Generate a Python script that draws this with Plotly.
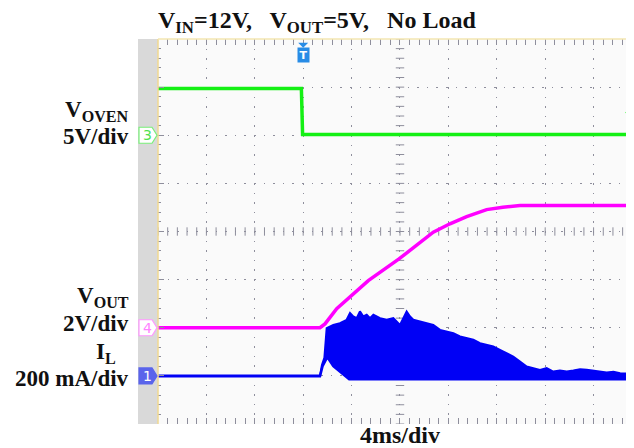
import plotly.graph_objects as go

# ---------------- data (read from the scope capture) ----------------
# time in ms relative to trigger; 4 ms/div
EN_T = [-12, -0.15, -0.05, 27.34]
EN_V = [4.86, 4.86, 0.08, 0.08]          # V, 5 V/div

VOUT_T = [-12, 1.39, 1.80, 2.77, 5.38, 7.92, 10.75, 12.13, 13.51, 15.16, 16.5, 17.92, 27.34]
VOUT_V = [0, 0, 0.16, 0.79, 1.96, 2.86, 3.97, 4.32, 4.62, 4.91, 5.01, 5.08, 5.08]   # V, 2 V/div

IL_T_UP = [-12, 1.39, 1.55, 1.75, 1.94, 2.49, 3.04, 3.59, 3.87, 4.14, 4.42, 4.69, 4.97, 5.25,
           5.52, 5.80, 6.35, 6.90, 7.45, 8.0, 8.55, 8.83, 9.10, 9.65, 10.21, 10.75, 11.31,
           11.86, 12.41, 12.96, 13.51, 14.06, 14.61, 15.16, 15.71, 16.26, 16.82, 17.36, 17.92,
           18.47, 19.02, 19.57, 20.12, 20.67, 21.22, 21.78, 22.33, 22.88, 23.43, 23.98, 24.53,
           25.08, 25.64, 26.19, 27.34]
IL_UP = [2, 2, 45, 75, 198, 212, 219, 233, 261, 247, 240, 268, 247, 254,
         240, 254, 240, 233, 240, 212, 268, 247, 233, 226, 219, 212, 191,
         184, 177, 164, 157, 150, 136, 129, 122, 108, 94, 80, 60,
         39, 32, 25, 32, 18, 22, 18, 22, 28, 25, 22, 18,
         14, 17, 11, 8]                    # mA, 200 mA/div
IL_T_LO = [-12, 1.39, 1.60, 1.99, 2.49, 3.30, 3.80, 27.34]
IL_LO = [-2, -2, 40, 78, 40, 5, -14, -14]

TRIG_TIME = 0.0
TRIG_LEVEL = 2.37   # V on EN channel

# scope settings: volts (or mA) per div and offset in divisions
CH = {
    "EN": dict(scale=5, offset=2),
    "VOUT": dict(scale=2, offset=-2),
    "IL": dict(scale=200, offset=-3),
}
NDIV_Y = 8
T_RANGE = [-12, 27.34]

GREEN = "rgb(20,240,20)"
MAGENTA = "rgb(255,0,255)"
BLUE = "rgb(0,0,245)"

def rng(ch):
    s, o = CH[ch]["scale"], CH[ch]["offset"]
    return [(-NDIV_Y / 2 - o) * s, (NDIV_Y / 2 - o) * s]

def ypaper(ch):
    return (CH[ch]["offset"] + NDIV_Y / 2) / NDIV_Y

fig = go.Figure()

grid_col = "#8e8e9c"
# center graticule tick marks
cx = [T_RANGE[0] + 0.8 * k for k in range(50) if T_RANGE[0] + 0.8 * k <= T_RANGE[1]]
cy = [-4 + 0.2 * k for k in range(41)]
fig.add_trace(go.Scatter(x=cx, y=[0] * len(cx), mode="markers", hoverinfo="skip",
                         marker=dict(symbol="line-ns-open", size=6, color=grid_col,
                                     line=dict(color=grid_col, width=1)),
                         showlegend=False))
fig.add_trace(go.Scatter(x=[8] * len(cy), y=cy, mode="markers", hoverinfo="skip",
                         marker=dict(symbol="line-ew-open", size=6, color=grid_col,
                                     line=dict(color=grid_col, width=1)),
                         showlegend=False))

# traces
fig.add_trace(go.Scatter(x=EN_T, y=EN_V, yaxis="y2", mode="lines",
                         line=dict(color=GREEN, width=3.5), showlegend=False))
fig.add_trace(go.Scatter(x=VOUT_T, y=VOUT_V, yaxis="y3", mode="lines",
                         line=dict(color=MAGENTA, width=3.5), showlegend=False))
fig.add_trace(go.Scatter(x=IL_T_LO, y=IL_LO, yaxis="y4", mode="lines",
                         line=dict(color=BLUE, width=2.5), showlegend=False))
fig.add_trace(go.Scatter(x=IL_T_UP, y=IL_UP, yaxis="y4", mode="lines", fill="tonexty",
                         fillcolor=BLUE, line=dict(color=BLUE, width=2), showlegend=False))
# trigger level arrow
fig.add_trace(go.Scatter(x=[27.05], y=[TRIG_LEVEL], yaxis="y2", mode="markers", cliponaxis=False,
                         marker=dict(symbol="triangle-left", size=11, color="rgb(90,250,90)"),
                         showlegend=False))

# the page body has an 8px margin, so margins are shifted by 8px
fig.update_layout(
    width=634, height=448,
    margin=dict(l=150, r=8, t=31, b=32),
    paper_bgcolor="white", plot_bgcolor="#fafafa",
    xaxis=dict(range=T_RANGE, tickmode="linear", tick0=-12, dtick=4, showticklabels=False,
               showgrid=True, gridcolor=grid_col, griddash="1.5px,8.1px", gridwidth=1,
               zeroline=False, ticks="inside", ticklen=6, tickcolor=grid_col, mirror="allticks",
               minor=dict(dtick=0.8, tick0=-12, ticks="inside", ticklen=3, tickcolor=grid_col,
                          showgrid=False),
               fixedrange=True),
    yaxis=dict(range=[-4, 4], tickmode="linear", tick0=-4, dtick=1, showticklabels=False,
               showgrid=True, gridcolor=grid_col, griddash="1.5px,8.1px", gridwidth=1,
               zeroline=False, ticks="inside", ticklen=6, tickcolor=grid_col, mirror="allticks",
               minor=dict(dtick=0.2, tick0=-4, ticks="inside", ticklen=3, tickcolor=grid_col,
                          showgrid=False),
               fixedrange=True),
    yaxis2=dict(range=rng("EN"), overlaying="y", visible=False),
    yaxis3=dict(range=rng("VOUT"), overlaying="y", visible=False),
    yaxis4=dict(range=rng("IL"), overlaying="y", visible=False),
    showlegend=False,
)

# gray strip and border
fig.add_shape(type="rect", xref="paper", yref="paper", x0=-0.042, x1=0, y0=0, y1=1,
              fillcolor="#d9d9d9", line=dict(width=0), layer="below")
fig.add_shape(type="line", xref="paper", yref="paper", x0=0, x1=0, y0=0, y1=1,
              line=dict(color="#f0d890", width=1.5))
fig.add_shape(type="line", xref="paper", yref="paper", x0=0, x1=1, y0=1, y1=1,
              line=dict(color="#f3e6b0", width=1.5))

# channel markers
pent = "M -19,-8 L -6,-8 L -1,0 L -6,8 L -19,8 Z"
markers = [("EN", "3", "white", "rgb(120,240,120)", "rgb(80,225,80)"),
           ("VOUT", "4", "white", "rgb(255,150,255)", "rgb(255,130,255)"),
           ("IL", "1", "rgb(90,100,235)", "rgb(90,100,235)", "white")]
for ch, lab_, fill, edge, tcol in markers:
    yp = ypaper(ch)
    fig.add_shape(type="path", path=pent, xref="paper", yref="paper",
                  xsizemode="pixel", ysizemode="pixel",
                  xanchor=0, yanchor=yp, fillcolor=fill, line=dict(color=edge, width=1.2))
    fig.add_annotation(x=0, y=yp, xref="paper", yref="paper", text=lab_, showarrow=False,
                       xanchor="center", yanchor="middle", xshift=-11,
                       font=dict(family="DejaVu Sans", size=14, color=tcol))

# trigger "T" badge
xtrig = (TRIG_TIME - T_RANGE[0]) / (T_RANGE[1] - T_RANGE[0])
fig.add_shape(type="path", path="M -5,0 L 5,0 L 0,-5 Z", xref="paper", yref="paper",
              xsizemode="pixel", ysizemode="pixel", xanchor=xtrig, yanchor=0.99,
              fillcolor="rgb(40,140,230)", line=dict(width=0))
fig.add_annotation(x=xtrig, y=1, xref="paper", yref="paper", yshift=-8, text="<b>T</b>",
                   xanchor="center", yanchor="top",
                   showarrow=False, bgcolor="rgb(40,140,230)", borderpad=0, width=11, height=14,
                   font=dict(family="DejaVu Sans", size=11, color="white"))

serif = "Liberation Serif"
def lab(text, x, y, size=23, xanchor="right"):
    fig.add_annotation(x=x, y=y, xref="paper", yref="paper", text=text, showarrow=False,
                       xanchor=xanchor, yanchor="middle",
                       font=dict(family=serif, size=size, color="#111"))

lab("<b>V<sub>IN</sub>=12V,   V<sub>OUT</sub>=5V,   No Load</b>", 0.334, 1.045, size=24, xanchor="center")
lab("<b>V<sub>OVEN</sub></b>", -0.057, 0.812)
lab("<b>5V/div</b>", -0.057, 0.748)
lab("<b>V<sub>OUT</sub></b>", -0.057, 0.33)
lab("<b>2V/div</b>", -0.057, 0.262)
lab("<b>I<sub>L</sub></b>", -0.084, 0.185)
lab("<b>200 mA/div</b>", -0.057, 0.118)
lab("<b>4ms/div</b>", 0.508, -0.029, size=24, xanchor="center")

fig.write_html("out.html")
